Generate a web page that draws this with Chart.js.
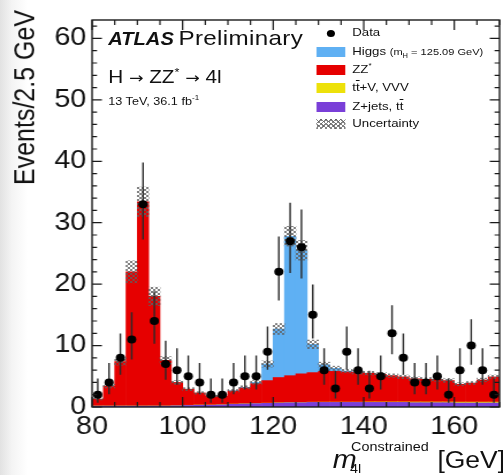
<!DOCTYPE html>
<html>
<head>
<meta charset="utf-8">
<script src="https://cdn.jsdelivr.net/npm/chart.js@4.4.1/dist/chart.umd.min.js"></script>
<style>
  html, body { margin: 0; padding: 0; }
  body {
    width: 503px; height: 475px; overflow: hidden; position: relative;
    background: linear-gradient(to right, #e2e2e2 0px, #f4f4f4 12px, #fff 28px);
    font-family: "Liberation Sans", Arial, Helvetica, sans-serif;
  }
  /* the whole figure is a bit wider than tall, so stretch it like the original */
  #stage { position: absolute; left: 0; top: 0; width: 437px; height: 475px; transform: scaleX(1.151); transform-origin: 0 0; }
  #stage canvas { position: absolute; left: 0; top: 0; }
  .t { position: absolute; white-space: nowrap; line-height: 1; color: #111; }
  .t sup, .t sub { line-height: 0; }
  .arr { font-family: "DejaVu Sans", sans-serif; font-size: 15px; }
  .box { position: absolute; left: 275px; width: 25px; height: 10px; }
  .hatch {
    background-image:
      repeating-linear-gradient(45deg, rgba(90,90,90,.75) 0 1px, transparent 1px 3px),
      repeating-linear-gradient(-45deg, rgba(90,90,90,.75) 0 1px, transparent 1px 3px);
  }
  .ov { text-decoration: overline; }
</style>
</head>
<body>
<div id="stage">
  <canvas id="chart" width="437" height="475"></canvas>

  <div class="t" style="left:94px; top:27px; font-size:21px;"><b><i style="font-size:17.5px;">ATLAS</i></b><span style="letter-spacing:0.3px; margin-left:4px;">Preliminary</span></div>
  <div class="t" style="left:94px; top:68px; font-size:18px;">H <span class="arr">&rarr;</span> ZZ<sup style="font-size:11px;">*</sup> <span class="arr">&rarr;</span> 4l</div>
  <div class="t" style="left:94px; top:96px; font-size:11px;">13 TeV, 36.1 fb<sup style="font-size:7px;">-1</sup></div>

  <!-- legend -->
  <div style="position:absolute; left:284px; top:29.5px; width:7px; height:7px; border-radius:50%; background:#000;"></div>
  <div class="t" style="left:306px; top:27.4px; font-size:11.5px;">Data</div>
  <div class="box" style="top:47px; background:#5fb0f3;"></div>
  <div class="t" style="left:306px; top:46.4px; font-size:11.5px;">Higgs <span style="font-size:9.6px;">(m<sub style="font-size:6.5px;">H</sub> = 125.09 GeV)</span></div>
  <div class="box" style="top:65px; background:#e60000;"></div>
  <div class="t" style="left:306px; top:64.4px; font-size:11.5px;">ZZ<sup style="font-size:7px;">*</sup></div>
  <div class="box" style="top:83px; background:#ede10a;"></div>
  <div class="t" style="left:306px; top:82.4px; font-size:11.5px;">t<span class="ov">t</span>+V, VVV</div>
  <div class="box" style="top:102px; background:#7a3fd8;"></div>
  <div class="t" style="left:306px; top:101.4px; font-size:11.5px;">Z+jets, t<span class="ov">t</span></div>
  <div class="box hatch" style="top:119px;"></div>
  <div class="t" style="left:306px; top:118.4px; font-size:11.5px;">Uncertainty</div>

  <!-- axis titles -->
  <div class="t" style="left:9px; top:10px; font-size:25px; writing-mode:vertical-rl; transform:rotate(180deg);">Events/2.5 GeV</div>
  <div class="t" style="left:289px; top:447px; font-size:25px; font-style:italic;">m</div>
  <div class="t" style="left:305px; top:441px; font-size:12.5px;">Constrained</div>
  <div class="t" style="left:304px; top:463px; font-size:12.5px;">4l</div>
  <div class="t" style="left:380px; top:449px; font-size:23px;">[GeV]</div>
</div>

<script>
// bins of 2.5 GeV, 80-170 GeV
const binCenters = [81.25, 83.75, 86.25, 88.75, 91.25, 93.75, 96.25, 98.75, 101.25, 103.75, 106.25, 108.75,
  111.25, 113.75, 116.25, 118.75, 121.25, 123.75, 126.25, 128.75, 131.25, 133.75, 136.25, 138.75,
  141.25, 143.75, 146.25, 148.75, 151.25, 153.75, 156.25, 158.75, 161.25, 163.75, 166.25, 168.75];

const dataCounts = [2, 4, 8, 11, 33, 14, 7, 6, 5, 4, 2, 2, 4, 5, 5, 9, 22, 27, 26, 15, 6, 3, 9, 6,
  3, 5, 12, 8, 4, 4, 5, 2, 6, 10, 6, 2];
const dataErrLow = [1.29, 1.91, 2.77, 3.26, 5.72, 3.70, 2.58, 2.38, 2.16, 1.91, 1.29, 1.29, 1.91, 2.16, 2.16, 2.94,
  4.66, 5.17, 5.07, 3.83, 2.38, 1.63, 2.94, 2.38, 1.63, 2.16, 3.41, 2.77, 1.91, 1.91, 2.16, 1.29, 2.38, 3.11, 2.38, 1.29];
const dataErrHigh = [2.64, 3.16, 3.95, 4.42, 6.81, 4.83, 3.77, 3.58, 3.38, 3.16, 2.64, 2.64, 3.16, 3.38, 3.38, 4.11,
  5.76, 6.26, 6.17, 4.95, 3.58, 2.92, 4.11, 3.58, 2.92, 3.38, 4.56, 3.95, 3.16, 3.16, 3.38, 2.64, 3.58, 4.27, 3.58, 2.64];

const zjets = [0.15, 0.15, 0.15, 0.15, 0.15, 0.15, 0.15, 0.2, 0.25, 0.3, 0.3, 0.35, 0.45, 0.5, 0.55, 0.6,
  0.65, 0.7, 0.7, 0.75, 0.75, 0.75, 0.75, 0.75, 0.75, 0.75, 0.75, 0.75, 0.7, 0.7, 0.7, 0.7, 0.65, 0.65, 0.65, 0.65];
const ttv = [0.02, 0.02, 0.02, 0.02, 0.02, 0.02, 0.02, 0.02, 0.03, 0.03, 0.03, 0.03, 0.03, 0.03, 0.03, 0.03,
  0.04, 0.04, 0.04, 0.04, 0.05, 0.05, 0.05, 0.05, 0.08, 0.08, 0.08, 0.08, 0.12, 0.12, 0.12, 0.12, 0.15, 0.15, 0.15, 0.15];
const zz = [1.13, 3.23, 7.23, 21.83, 33.23, 17.83, 7.43, 3.78, 2.62, 1.97, 1.47, 1.42, 2.12, 2.57, 3.22, 3.67,
  4.11, 4.36, 4.66, 4.81, 5.0, 5.0, 4.9, 4.8, 4.67, 4.47, 4.27, 4.07, 3.78, 3.68, 3.68, 3.48, 2.9, 3.1, 3.6, 4.1];
const higgs = [0, 0, 0, 0, 0, 0, 0, 0, 0, 0, 0, 0, 0.05, 0.1, 0.2, 2.7, 7.9, 22.7, 20.1, 4.6, 1.1, 0.5, 0.15, 0.05,
  0, 0, 0, 0, 0, 0, 0, 0, 0, 0, 0, 0];
const uncert = [0.15, 0.3, 0.6, 1.8, 2.4, 1.5, 0.6, 0.3, 0.25, 0.2, 0.15, 0.15, 0.2, 0.25, 0.3, 0.5, 0.9, 1.6, 1.6, 0.7,
  0.4, 0.35, 0.3, 0.3, 0.3, 0.3, 0.3, 0.3, 0.3, 0.3, 0.3, 0.3, 0.25, 0.25, 0.3, 0.3];

const xTickLabels = [80, 100, 120, 140, 160];
const yTickLabels = [0, 10, 20, 30, 40, 50, 60];
const xMin = 80, xMax = 170, yMin = 0, yMax = 63;

const pts = arr => arr.map((v, i) => ({ x: binCenters[i], y: v || null }));
const total = binCenters.map((c, i) => zjets[i] + ttv[i] + zz[i] + higgs[i]);

function hatchPattern() {
    const c = document.createElement('canvas');
    c.width = 4; c.height = 4;
    const g = c.getContext('2d');
    g.fillStyle = 'rgba(95,95,95,0.8)';
    for (let i = 0; i < 4; i++) {
        g.fillRect(i, i, 1, 1);
        g.fillRect(3 - i, i, 1, 1);
    }
    return g.createPattern(c, 'repeat');
}

// vertical data error bars, drawn before the markers
const errorBars = {
    id: 'errorBars',
    beforeDatasetDraw(chart, args) {
        if (args.index !== 0) return;
        const { ctx, scales: { x, y } } = chart;
        ctx.save();
        ctx.strokeStyle = '#2a2a2a';
        ctx.lineWidth = 1.4;
        ctx.beginPath();
        dataCounts.forEach((n, i) => {
            const px = x.getPixelForValue(binCenters[i]);
            ctx.moveTo(px, y.getPixelForValue(n - dataErrLow[i]));
            ctx.lineTo(px, y.getPixelForValue(n + dataErrHigh[i]));
        });
        ctx.stroke();
        ctx.restore();
    }
};

// ROOT style frame with inward ticks on all four sides
const frameTicks = {
    id: 'frameTicks',
    afterDraw(chart) {
        const { ctx, chartArea: a, scales: { x, y } } = chart;
        ctx.save();
        ctx.strokeStyle = '#1a1a1a';
        ctx.lineWidth = 1.2;
        ctx.beginPath();
        for (let v = xMin; v <= xMax; v += 5) {
            const px = x.getPixelForValue(v);
            const len = v % 20 === 0 ? 10 : 5;
            ctx.moveTo(px, a.bottom); ctx.lineTo(px, a.bottom - len);
            ctx.moveTo(px, a.top); ctx.lineTo(px, a.top + len);
        }
        for (let v = yMin; v <= yMax; v += 2) {
            const py = y.getPixelForValue(v);
            const len = v % 10 === 0 ? 8.5 : 4.3;
            ctx.moveTo(a.left, py); ctx.lineTo(a.left + len, py);
            ctx.moveTo(a.right, py); ctx.lineTo(a.right - len, py);
        }
        ctx.stroke();
        ctx.lineWidth = 1.4;
        ctx.strokeRect(a.left, a.top, a.right - a.left, a.bottom - a.top);
        ctx.restore();
    }
};

const barCommon = { type: 'bar', grouped: false, barPercentage: 1, categoryPercentage: 1, borderWidth: 0 };

new Chart(document.getElementById('chart'), {
    type: 'bar',
    data: {
        datasets: [
            { type: 'line', label: 'Data', data: pts(dataCounts), stack: 'data', showLine: false,
              pointRadius: 4, pointBackgroundColor: '#000', pointBorderWidth: 0, borderColor: '#000' },
            { ...barCommon, label: 'Uncertainty', stack: 'unc', backgroundColor: hatchPattern(),
              data: binCenters.map((c, i) => ({ x: c, y: [total[i] - uncert[i], total[i] + uncert[i]] })) },
            { ...barCommon, label: 'Z+jets, tt', stack: 'mc', backgroundColor: '#7a3fd8', data: pts(zjets) },
            { ...barCommon, label: 'tt+V, VVV', stack: 'mc', backgroundColor: '#ede10a', data: pts(ttv) },
            { ...barCommon, label: 'ZZ*', stack: 'mc', backgroundColor: '#e60000', data: pts(zz) },
            { ...barCommon, label: 'Higgs', stack: 'mc', backgroundColor: '#5fb0f3', data: pts(higgs) }
        ]
    },
    options: {
        responsive: false,
        animation: false,
        events: [],
        layout: { autoPadding: false, padding: { top: 13, right: 3, left: 0, bottom: 0 } },
        plugins: { legend: { display: false }, tooltip: { enabled: false } },
        scales: {
            x: {
                type: 'linear', min: xMin, max: xMax, offset: false,
                grid: { display: false, drawTicks: false }, border: { display: false },
                afterBuildTicks: s => { s.ticks = xTickLabels.map(v => ({ value: v })); },
                afterFit: s => { s.height = 68; },
                ticks: { padding: 5, color: '#111', maxRotation: 0, autoSkip: false,
                         font: { family: 'Liberation Sans', size: 25 } }
            },
            y: {
                type: 'linear', stacked: true, min: yMin, max: yMax,
                grid: { display: false, drawTicks: false }, border: { display: false },
                afterBuildTicks: s => { s.ticks = yTickLabels.map(v => ({ value: v })); },
                afterFit: s => { s.width = 80; },
                ticks: { padding: 5, color: '#111', autoSkip: false,
                         font: { family: 'Liberation Sans', size: 25 } }
            }
        }
    },
    plugins: [errorBars, frameTicks]
});
</script>
</body>
</html>
